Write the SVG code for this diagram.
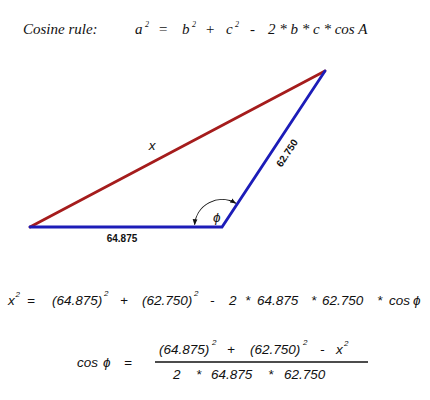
<svg xmlns="http://www.w3.org/2000/svg" width="430" height="400" viewBox="0 0 430 400">
<style>
.t{font-family:"Liberation Serif",serif;font-style:italic;font-size:15px;fill:#111}
.s{font-family:"Liberation Sans",Arial,sans-serif;font-style:italic;font-size:13.5px;fill:#111}
.sup{font-size:8px}
.b{font-family:"Liberation Sans",Arial,sans-serif;font-weight:bold;font-size:10px;fill:#111}
.red{stroke:#a51c1c;stroke-width:2.8;fill:none;stroke-linecap:round}
.blue{stroke:#1c1cb8;stroke-width:2.8;fill:none;stroke-linecap:round;stroke-linejoin:miter}
</style>
<defs>
<marker id="ah" viewBox="0 0 10 10" refX="9" refY="5" markerWidth="6" markerHeight="6" orient="auto-start-reverse" markerUnits="userSpaceOnUse">
<path d="M0,1 L10,5 L0,9 Z" fill="#111"/>
</marker>
</defs>
<rect width="430" height="400" fill="#fff"/>

<g id="rule">
<text class="t" x="23" y="34">Cosine rule:</text>
<text class="t" x="135" y="34">a</text><text class="t sup" x="145" y="27">2</text>
<text class="t" x="158" y="34">=</text>
<text class="t" x="182" y="34">b</text><text class="t sup" x="192" y="27">2</text>
<text class="t" x="205" y="34">+</text>
<text class="t" x="226" y="34">c</text><text class="t sup" x="235" y="27">2</text>
<text class="t" x="250" y="34">-</text>
<text class="t" x="268" y="34">2 * b * c * cos A</text>
</g>

<g id="connectors">
<line class="red" x1="30" y1="227" x2="325" y2="71"/>
<path class="blue" d="M30,227 L222,227 L325,71"/>
<path d="M194.6,224.6 A27.5,27.5 0 0 1 235.75,203.2" fill="none" stroke="#111" stroke-width="1.1" marker-start="url(#ah)" marker-end="url(#ah)"/>
</g>

<g id="labels">
<text class="s" x="152" y="150" text-anchor="middle">x</text>
<text class="b" x="122" y="242" text-anchor="middle">64.875</text>
<text class="b" x="287" y="153" text-anchor="middle" dominant-baseline="central" font-size="11.5" transform="rotate(-56.6 287 153)">62.750</text>
<text class="s" x="213" y="222" font-size="12">ϕ</text>
</g>

<g id="eq1">
<text class="s" x="8" y="305">x</text><text class="s sup" x="15.5" y="297">2</text>
<text class="s" x="27" y="305">=</text>
<text class="s" x="52" y="305">(64.875)</text><text class="s sup" x="104" y="296">2</text>
<text class="s" x="120" y="305">+</text>
<text class="s" x="142" y="305">(62.750)</text><text class="s sup" x="194" y="296">2</text>
<text class="s" x="210" y="305">-</text>
<text class="s" x="229" y="305">2</text>
<text class="s" x="245" y="305">*</text>
<text class="s" x="257" y="305">64.875</text>
<text class="s" x="311" y="305">*</text>
<text class="s" x="322" y="305">62.750</text>
<text class="s" x="377" y="305">*</text>
<text class="s" x="389" y="305">cos</text>
<text class="s" x="413" y="305">ϕ</text>
</g>

<g id="eq2">
<text class="s" x="77" y="367">cos</text>
<text class="s" x="103" y="367">ϕ</text>
<text class="s" x="124" y="367">=</text>
<text class="s" x="159" y="354">(64.875)</text><text class="s sup" x="212" y="345">2</text>
<text class="s" x="227" y="354">+</text>
<text class="s" x="250" y="354">(62.750)</text><text class="s sup" x="303" y="345">2</text>
<text class="s" x="320" y="354">-</text>
<text class="s" x="336" y="354">x</text><text class="s sup" x="344" y="346">2</text>
<line x1="155" y1="362" x2="368" y2="362" stroke="#111" stroke-width="1.3"/>
<text class="s" x="173" y="379">2</text>
<text class="s" x="196" y="379">*</text>
<text class="s" x="211" y="379">64.875</text>
<text class="s" x="268" y="379">*</text>
<text class="s" x="284" y="379">62.750</text>
</g>
</svg>
